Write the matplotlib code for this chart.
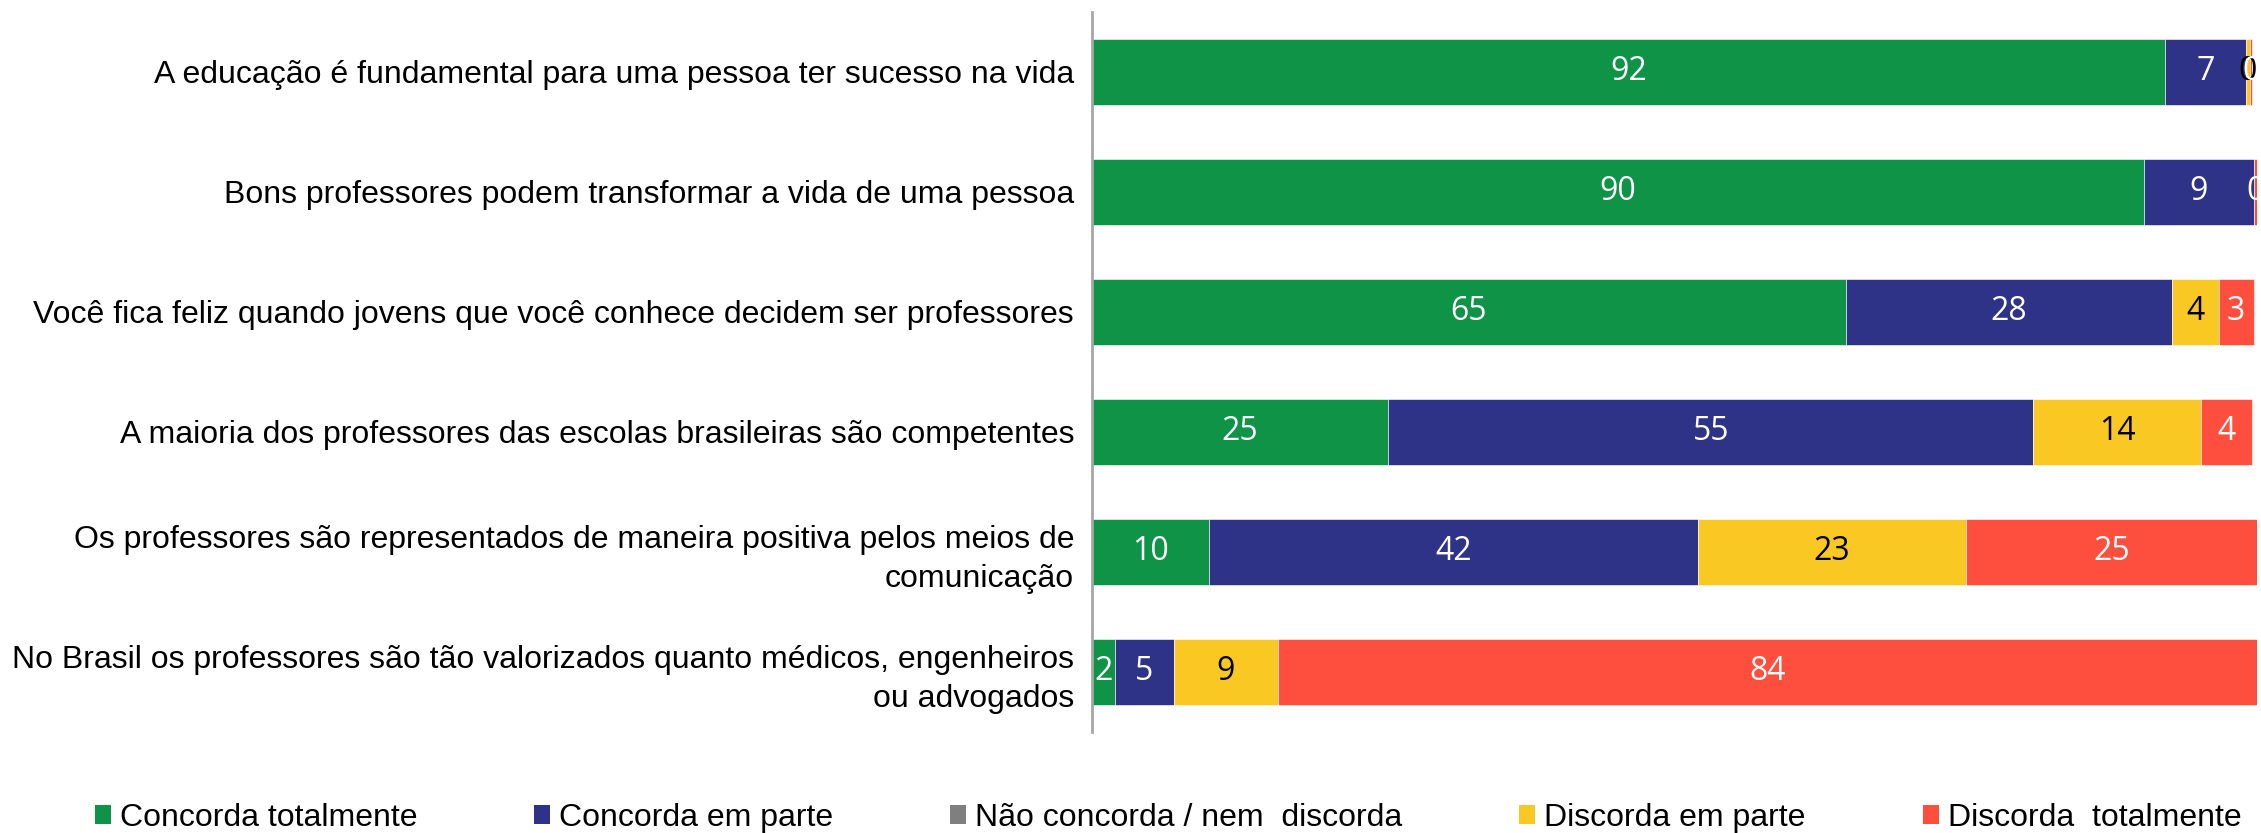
import numpy as np
from matplotlib import pyplot as plt
from matplotlib.patches import Patch

# survey statements (top to bottom)
categories = [
    "A educação é fundamental para uma pessoa ter sucesso na vida",
    "Bons professores podem transformar a vida de uma pessoa",
    "Você fica feliz quando jovens que você conhece decidem ser professores",
    "A maioria dos professores das escolas brasileiras são competentes",
    "Os professores são representados de maneira positiva pelos meios de\ncomunicação",
    "No Brasil os professores são tão valorizados quanto médicos, engenheiros\nou advogados",
]
series_names = ["Concorda totalmente", "Concorda em parte", "Não concorda / nem  discorda",
                "Discorda em parte", "Discorda  totalmente"]

concorda_total = [92.1, 90.3, 64.7, 25.4, 10, 2]
concorda_parte = [6.9, 9.4, 28.0, 55.4, 42, 5]
neutro = [0, 0, 0, 0, 0, 0]
discorda_parte = [0.4, 0, 4.0, 14.4, 23, 9]
discorda_total = [0.2, 0.3, 3.0, 4.4, 25, 84]

colors = ["#0F9347", "#2E3388", "#7F7F7F", "#F9C822", "#FE4F3E"]
text_colors = ["white", "white", "white", "black", "white"]

plt.rcParams['font.family'] = ['Liberation Sans', 'DejaVu Sans']

fig = plt.figure(figsize=(22.61, 8.33), dpi=100)
ax = fig.add_axes([0.483, 0.1213, 0.5153, 0.8643])

y = np.arange(len(categories))
data = [concorda_total, concorda_parte, neutro, discorda_parte, discorda_total]
left = np.zeros(len(categories))
for vals, c, tc in zip(data, colors, text_colors):
    vals = np.array(vals, dtype=float)
    bars = ax.barh(y, vals, left=left, height=0.55, color=c, edgecolor='white', linewidth=0.4)
    for i, v in enumerate(vals):
        if v > 0:
            ax.text(left[i] + v / 2, y[i], f"{v:.0f}", ha='center', va='center',
                    color=tc, fontsize=23, family=['Open Sans', 'DejaVu Sans'])
    left += vals

ax.set_xlim(0, 100)
ax.set_ylim(5.5, -0.5)
ax.set_yticks(y)
ax.set_yticklabels(categories, fontsize=23, linespacing=1.37)
ax.tick_params(axis='y', length=0, pad=13)
ax.set_xticks([])
for s in ['top', 'right', 'bottom']:
    ax.spines[s].set_visible(False)
ax.spines['left'].set_color('#A6A6A6')
ax.spines['left'].set_linewidth(2)

handles = [Patch(facecolor=c, edgecolor='none') for c in colors]
fig.legend(handles, series_names, loc='center left', bbox_to_anchor=(95 / 2261, 0.018),
           ncol=5, frameon=False, fontsize=23, handlelength=0.5, handleheight=0.55,
           handletextpad=0.28, columnspacing=3.66, borderpad=0, borderaxespad=0)

fig.savefig("out.png", dpi=100)
